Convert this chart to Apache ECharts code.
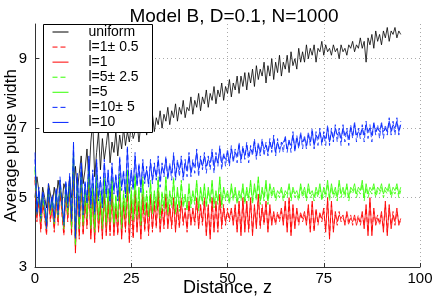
<!DOCTYPE html>
<html>
<head>
<meta charset="utf-8">
<script src="https://cdn.jsdelivr.net/npm/echarts@6/dist/echarts.min.js"></script>
<style>html,body{margin:0;padding:0;background:#fff;}#c{width:436px;height:300px;}</style>
</head>
<body>
<div id="c"></div>
<script>
// sample spacing along distance z (samples at z = 0, 0.5, ..., 95)
const dz = 0.5;
const seriesNames = ['uniform', 'l=1\u00b1 0.5', 'l=1', 'l=5\u00b1 2.5', 'l=5', 'l=10\u00b1 5', 'l=10'];
const xTicks = [0, 25, 50, 75, 100];
const yTicks = [3, 5, 7, 9];

const uniform = [
5.0,5.6,5.2,4.6,5.3,5.0,4.7,5.4,5.1,4.8,
5.3,4.9,5.5,5.1,4.8,5.4,5.2,4.9,5.6,5.0,
5.3,5.9,5.2,5.7,6.2,5.4,5.8,6.4,5.5,6.6,
7.2,5.6,6.3,6.9,5.8,6.7,6.1,6.5,7.0,6.0,
6.6,6.3,6.9,6.2,6.8,6.4,7.0,6.5,6.9,6.6,
7.1,6.7,6.9,7.2,6.6,7.1,6.9,7.3,6.8,7.2,
7.0,7.4,6.9,7.3,7.1,7.5,7.0,7.4,7.2,7.6,
7.1,7.5,7.3,7.7,7.2,7.6,7.4,7.8,7.3,7.6,
7.5,7.9,7.4,7.8,7.6,8.0,7.5,7.9,7.7,8.1,
7.6,8.0,7.8,8.2,7.7,8.1,7.9,8.3,7.8,8.2,
8.0,8.4,7.9,8.3,8.1,8.5,8.0,8.5,8.2,8.6,
8.1,8.6,8.3,8.7,8.2,8.8,8.4,8.7,8.5,8.9,
8.3,8.8,8.5,9.0,8.4,8.9,8.6,9.1,8.5,8.9,
8.7,9.1,8.6,9.2,8.8,9.0,8.7,9.3,8.9,9.2,
8.9,9.4,9.0,9.3,9.1,9.4,8.9,9.3,9.2,9.5,
9.1,9.4,9.2,9.3,9.1,9.4,9.2,9.3,9.0,9.4,
9.2,9.3,9.1,9.4,9.3,9.5,9.2,9.4,9.3,9.6,
9.3,9.5,8.9,9.6,9.4,9.7,9.3,9.8,9.5,9.7,
9.4,9.8,9.6,9.9,9.5,9.8,9.7,9.9,9.6,9.8,
9.7];

const l1pm = [
5.5,4.3,5.0,4.0,4.9,4.4,3.9,5.1,4.3,4.8,
4.0,5.0,4.2,5.3,4.5,3.9,5.2,4.3,5.3,3.9,
5.9,3.5,5.2,3.8,5.5,3.9,5.0,4.1,5.4,3.9,
5.1,3.8,5.2,4.1,4.9,3.9,5.1,4.0,5.0,3.9,
5.1,4.0,4.8,3.9,5.2,3.9,4.9,4.0,5.3,3.8,
5.0,3.8,5.1,4.1,4.8,3.9,5.0,4.0,4.9,3.9,
5.0,4.0,4.9,4.1,5.1,4.1,4.8,4.1,5.0,4.2,
4.8,4.1,4.9,4.1,4.7,4.1,5.0,4.2,4.7,4.0,
4.8,4.3,4.6,4.2,4.9,4.2,4.7,4.2,5.0,4.0,
4.7,3.9,4.9,4.1,4.8,4.0,5.0,4.1,4.8,4.2,
4.7,4.3,4.6,4.3,4.7,4.1,4.8,4.0,4.9,4.1,
4.8,4.0,4.9,4.0,4.7,4.2,5.0,4.1,4.8,4.2,
4.8,4.1,4.7,4.3,4.5,4.2,4.6,4.3,4.6,4.3,
4.8,4.1,4.9,4.0,4.7,4.2,4.6,4.2,4.6,4.3,
4.5,4.3,4.7,4.1,4.8,4.0,4.7,4.2,4.6,4.3,
4.6,4.1,4.9,3.9,4.8,4.1,4.5,4.2,4.6,4.3,
4.4,4.3,4.5,4.2,4.5,4.2,4.4,4.3,4.5,4.2,
4.5,4.2,4.7,4.0,4.9,4.0,4.6,4.3,4.5,4.2,
4.5,4.1,4.8,4.0,4.7,4.2,4.6,4.2,4.6,4.3,
4.3];

const l1 = [
5.6,4.4,4.9,4.1,4.8,4.5,4.0,5.0,4.4,4.7,
4.1,4.9,4.3,5.2,4.6,4.0,5.1,4.4,5.2,4.0,
6.0,3.4,5.1,3.9,5.4,4.0,4.9,4.2,5.5,3.8,
5.0,3.7,5.3,4.0,4.8,3.8,5.2,3.9,4.9,4.0,
5.2,3.9,4.7,4.0,5.3,3.8,4.8,4.1,5.4,3.7,
4.9,3.9,5.2,4.0,4.9,3.8,5.1,4.1,4.8,4.0,
5.1,4.1,4.8,4.2,5.2,4.0,4.7,4.2,5.1,4.1,
4.7,4.2,5.0,4.0,4.8,4.2,4.9,4.3,4.6,4.1,
4.9,4.2,4.7,4.3,5.0,4.1,4.8,4.3,4.9,3.9,
4.8,3.8,5.0,4.0,4.9,4.1,5.1,4.2,4.7,4.3,
4.6,4.4,4.7,4.2,4.8,4.0,4.9,3.9,5.0,4.0,
4.9,4.1,5.0,3.9,4.8,4.1,5.1,4.2,4.7,4.3,
4.9,4.0,4.8,4.2,4.6,4.3,4.5,4.4,4.7,4.2,
4.9,4.0,5.0,3.9,4.8,4.1,4.7,4.3,4.5,4.4,
4.6,4.2,4.8,4.0,4.9,4.1,4.6,4.3,4.5,4.4,
4.7,4.0,5.0,3.8,4.9,4.0,4.6,4.3,4.5,4.4,
4.5,4.2,4.6,4.3,4.4,4.3,4.5,4.2,4.4,4.3,
4.6,4.1,4.8,3.9,5.0,3.9,4.7,4.2,4.4,4.3,
4.6,4.0,4.9,3.9,4.8,4.1,4.5,4.3,4.7,4.2,
4.4];

const l5pm = [
5.8,4.5,5.2,4.3,5.1,4.6,4.1,5.3,4.5,5.0,
4.2,5.2,4.4,5.5,4.7,4.1,5.4,4.5,5.5,4.1,
6.2,3.6,5.5,4.1,5.8,4.2,5.3,4.4,5.9,4.1,
5.4,4.0,5.7,4.3,5.2,4.1,5.6,4.2,5.3,4.3,
5.6,4.2,5.1,4.3,5.7,4.1,5.2,4.4,5.7,4.2,
5.3,4.3,5.7,4.4,5.2,4.2,5.6,4.5,5.2,4.4,
5.5,4.5,5.1,4.6,5.6,4.4,5.2,4.6,5.5,4.5,
5.1,4.7,5.6,4.5,5.2,4.6,5.5,4.7,5.0,4.6,
5.3,4.7,5.1,4.8,5.4,4.6,5.2,4.8,5.3,4.7,
5.2,4.8,5.4,4.7,5.1,4.8,5.5,4.7,5.2,4.9,
5.1,4.8,5.3,4.9,5.2,4.8,5.1,4.9,5.3,4.8,
5.2,4.9,5.4,4.8,5.3,4.9,5.5,4.8,5.2,4.9,
5.4,4.8,5.3,5.0,5.2,4.9,5.1,5.0,5.2,4.9,
5.1,5.0,5.3,4.9,5.2,5.0,5.1,4.9,5.3,5.0,
5.2,4.9,5.3,5.0,5.1,4.9,5.2,5.0,5.3,4.9,
5.2,5.0,5.4,4.9,5.3,5.0,5.2,4.9,5.4,5.0,
5.2,5.0,5.3,4.9,5.2,5.1,5.3,5.0,5.2,5.1,
5.4,4.9,5.3,5.0,5.2,5.1,5.3,5.0,5.2,5.1,
5.3,5.0,5.2,5.1,5.3,5.0,5.2,5.1,5.3,5.0,
5.2];

const l5 = [
5.9,4.6,5.1,4.4,5.0,4.7,4.2,5.2,4.6,4.9,
4.3,5.1,4.5,5.4,4.8,4.2,5.3,4.6,5.4,4.2,
6.3,3.7,5.4,4.2,5.7,4.3,5.2,4.5,5.8,4.2,
5.3,4.1,5.6,4.4,5.1,4.2,5.5,4.3,5.2,4.4,
5.5,4.3,5.0,4.4,5.6,4.2,5.1,4.5,5.8,4.3,
5.2,4.4,5.6,4.5,5.3,4.3,5.5,4.6,5.1,4.5,
5.4,4.6,5.2,4.7,5.5,4.5,5.1,4.7,5.6,4.6,
5.2,4.8,5.5,4.6,5.3,4.7,5.4,4.8,5.1,4.7,
5.4,4.8,5.2,4.9,5.5,4.7,5.3,4.9,5.4,4.8,
5.3,4.9,5.5,4.8,5.2,4.9,5.6,4.8,5.3,5.0,
5.2,4.9,5.4,5.0,5.3,4.9,5.2,5.0,5.4,4.9,
5.3,5.0,5.5,4.9,5.4,5.0,5.6,4.9,5.3,5.0,
5.5,4.9,5.4,5.1,5.3,5.0,5.2,5.1,5.3,5.0,
5.2,5.1,5.4,5.0,5.3,5.1,5.2,5.0,5.4,5.1,
5.3,5.0,5.4,5.1,5.2,5.0,5.3,5.1,5.4,5.0,
5.3,5.1,5.5,5.0,5.4,5.1,5.3,5.0,5.5,5.1,
5.3,5.1,5.4,5.0,5.3,5.2,5.4,5.1,5.3,5.2,
5.5,5.0,5.4,5.1,5.3,5.2,5.4,5.1,5.3,5.2,
5.4,5.1,5.3,5.2,5.4,5.1,5.3,5.2,5.4,5.1,
5.3];

const l10pm = [
6.1,4.5,5.3,4.4,5.2,4.9,4.1,5.4,4.6,5.1,
4.3,5.3,4.5,5.6,4.8,4.2,5.5,4.7,5.7,4.3,
6.5,3.8,5.7,4.4,5.9,4.5,5.5,4.8,6.1,4.7,
5.8,4.5,6.0,4.9,5.6,4.7,6.1,5.0,5.7,4.8,
6.0,5.1,5.7,4.9,6.2,5.2,5.8,5.0,6.5,5.1,
5.7,5.2,6.3,5.3,6.0,5.1,6.1,5.4,5.9,5.3,
6.1,5.4,6.0,5.5,6.2,5.3,6.0,5.6,6.2,5.5,
6.0,5.5,6.3,5.5,6.1,5.6,6.2,5.5,6.1,5.6,
6.3,5.6,6.1,5.7,6.4,5.6,6.2,5.8,6.3,5.7,
6.2,5.8,6.4,5.7,6.3,5.9,6.5,5.8,6.3,5.9,
6.4,5.9,6.5,6.0,6.4,6.0,6.6,6.0,6.5,6.1,
6.6,6.0,6.5,6.2,6.7,6.1,6.6,6.2,6.7,6.2,
6.6,6.2,6.7,6.3,6.8,6.2,6.7,6.3,6.6,6.3,
6.8,6.3,6.7,6.3,6.9,6.3,6.8,6.4,6.9,6.4,
6.8,6.4,6.9,6.5,7.0,6.4,6.9,6.5,7.0,6.5,
6.9,6.5,7.1,6.5,7.0,6.6,7.1,6.6,7.0,6.5,
7.1,6.6,7.0,6.5,7.1,6.7,7.2,6.6,7.0,6.7,
7.1,6.6,7.2,6.7,7.1,6.6,7.2,6.8,7.1,6.7,
7.2,6.7,7.1,6.8,7.3,6.8,7.2,6.8,7.3,6.8,
7.2];

const l10 = [
6.3,4.6,5.2,4.5,5.1,4.8,4.2,5.3,4.7,5.0,
4.4,5.2,4.6,5.5,4.9,4.3,5.4,4.8,5.6,4.4,
6.6,3.9,5.6,4.5,6.0,4.6,5.4,4.9,6.2,4.8,
5.7,4.6,6.1,5.0,5.5,4.8,6.0,5.1,5.8,4.9,
5.9,5.2,5.6,5.0,6.1,5.3,5.7,5.1,6.4,5.2,
5.8,5.3,6.2,5.4,5.9,5.3,6.0,5.5,5.8,5.4,
6.0,5.5,5.9,5.6,6.1,5.5,5.9,5.7,6.1,5.6,
5.9,5.7,6.2,5.6,6.0,5.8,6.1,5.6,6.0,5.8,
6.2,5.7,6.0,5.9,6.3,5.8,6.1,5.9,6.2,5.9,
6.1,6.0,6.3,5.9,6.2,6.0,6.4,6.0,6.2,6.1,
6.3,6.0,6.4,6.1,6.3,6.2,6.5,6.1,6.4,6.2,
6.5,6.2,6.4,6.3,6.6,6.2,6.5,6.3,6.6,6.4,
6.5,6.3,6.6,6.4,6.7,6.3,6.6,6.4,6.5,6.5,
6.7,6.4,6.6,6.5,6.8,6.4,6.7,6.5,6.8,6.6,
6.7,6.5,6.8,6.6,6.9,6.5,6.8,6.7,6.9,6.6,
6.8,6.7,7.0,6.6,6.9,6.7,7.0,6.8,6.9,6.7,
7.0,6.8,6.9,6.7,7.0,6.8,7.1,6.8,6.9,6.8,
7.0,6.8,7.1,6.9,7.0,6.8,7.1,6.9,7.0,6.9,
7.1,6.9,7.0,6.9,7.2,6.9,7.1,7.0,7.2,6.9,
7.1];

const seriesValues = [uniform, l1pm, l1, l5pm, l5, l10pm, l10];
const seriesColors = ['#000000', '#ff0000', '#ff0000', '#33ff00', '#33ff00', '#0022ff', '#0022ff'];
const seriesDashed = [false, true, false, true, false, true, false];

const FONT = 'Liberation Sans, Arial, Helvetica, sans-serif';
const chart = echarts.init(document.getElementById('c'), null, {renderer: 'canvas'});

const series = seriesValues.map((vals, k) => ({
  name: seriesNames[k],
  type: 'line',
  data: vals.map((v, i) => [i * dz, v]),
  showSymbol: false,
  symbol: 'none',
  animation: false,
  lineStyle: {color: seriesColors[k], width: 0.8, type: seriesDashed[k] ? [5, 3] : 'solid'},
  itemStyle: {color: seriesColors[k]}
}));

chart.setOption({
  backgroundColor: '#fff',
  animation: false,
  title: {
    text: 'Model B, D=0.1, N=1000',
    left: 229, top: 2, textAlign: 'center',
    textStyle: {fontFamily: FONT, fontSize: 19, fontWeight: 'normal', color: '#000'}
  },
  grid: {left: 35, right: 16, top: 24, bottom: 33, containLabel: false, outerBoundsMode: 'none'},
  xAxis: {
    type: 'value', min: 0, max: 100, interval: 25,
    name: 'Distance, z', nameLocation: 'middle', nameGap: 12, nameMoveOverlap: false,
    nameTextStyle: {fontFamily: FONT, fontSize: 18, color: '#000'},
    axisLine: {show: true, onZero: false, lineStyle: {color: '#333', width: 1}},
    axisTick: {show: true, inside: true, length: 4, lineStyle: {color: '#333'}},
    axisLabel: {fontFamily: FONT, fontSize: 15, color: '#000', margin: 4,
      customValues: xTicks},
    splitLine: {show: true, lineStyle: {color: '#aaa', type: [1, 3], width: 1}}
  },
  yAxis: {
    type: 'value', min: 3, max: 10,
    name: 'Average pulse width', nameLocation: 'middle', nameGap: 15, nameMoveOverlap: false,
    nameTextStyle: {fontFamily: FONT, fontSize: 17, color: '#000'},
    axisLine: {show: true, onZero: false, lineStyle: {color: '#333', width: 1}},
    axisTick: {show: true, inside: true, length: 4, lineStyle: {color: '#333'}, customValues: yTicks},
    axisLabel: {fontFamily: FONT, fontSize: 15, color: '#000', margin: 8, customValues: yTicks},
    splitLine: {show: true, lineStyle: {color: '#aaa', type: [1, 3], width: 1}}
  },
  legend: {
    orient: 'vertical', left: 52, top: 25, padding: 0,
    itemWidth: 16, itemHeight: 14, itemGap: 1.07,
    z: 10,
    data: seriesNames,
    itemStyle: {color: 'transparent', borderColor: 'transparent', borderWidth: 0, opacity: 0},
    lineStyle: {width: 1},
    textStyle: {fontFamily: FONT, fontSize: 14, color: '#000', padding: [0, 0, 0, 15]}
  },
  graphic: [{
    type: 'rect', z: 9, left: 43, top: 24,
    shape: {width: 109, height: 108},
    style: {fill: '#fff', stroke: '#000', lineWidth: 1}
  }],
  series: series
});
</script>
</body>
</html>
